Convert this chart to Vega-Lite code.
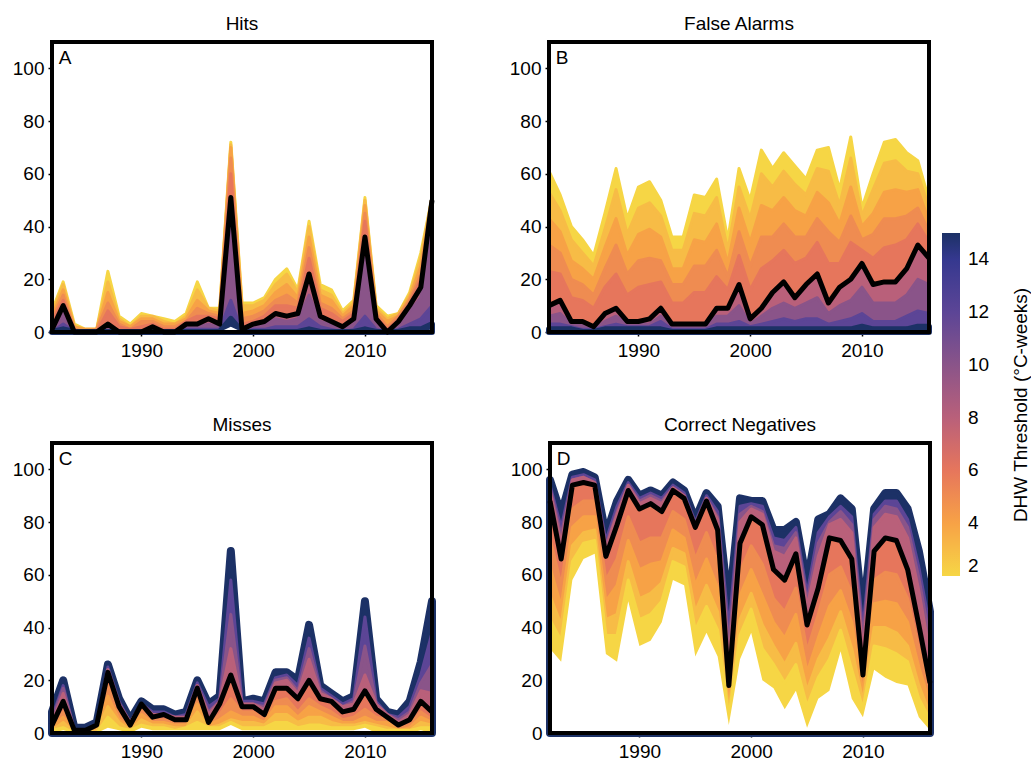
{
"$schema":"https://vega.github.io/schema/vega-lite/v6.json",
"background":"white",
"padding":{"left":12,"top":15,"right":0,"bottom":0},
"title":{"text":"DHW Threshold (°C-weeks)","orient":"right","anchor":"middle","angle":-90,"offset":3,"fontSize":19,"fontWeight":"normal","color":"black","font":"Liberation Sans","dx":-17},
"config":{"font":"Liberation Sans","view":{"stroke":null},
"axis":{"grid":false,"domain":false,"labelFontSize":19,"labelColor":"black","tickColor":"black","tickSize":4,"tickWidth":1.5,"title":null,"labelPadding":4},
"header":{"labelFontSize":19,"labelColor":"black","labelPadding":6}},
"datasets":{"d":[
{"p":"A","yr":1982,"k":1,"b":0,"2":8,"3":7,"4":6,"5":5,"6":4,"8":1,"10":1,"12":0,"15":0},
{"p":"A","yr":1983,"k":10,"b":0,"2":19,"3":18,"4":16,"5":14,"6":12,"8":10,"10":7,"12":3,"15":1},
{"p":"A","yr":1984,"k":0,"b":0,"2":3,"3":2,"4":2,"5":1,"6":1,"8":0,"10":0,"12":0,"15":0},
{"p":"A","yr":1985,"k":0,"b":0,"2":1,"3":1,"4":1,"5":0,"6":0,"8":0,"10":0,"12":0,"15":0},
{"p":"A","yr":1986,"k":0,"b":0,"2":1,"3":1,"4":1,"5":1,"6":0,"8":0,"10":0,"12":0,"15":0},
{"p":"A","yr":1987,"k":3,"b":0,"2":23,"3":19,"4":15,"5":11,"6":8,"8":3,"10":1,"12":0,"15":0},
{"p":"A","yr":1988,"k":0,"b":0,"2":6,"3":5,"4":4,"5":3,"6":2,"8":0,"10":0,"12":0,"15":0},
{"p":"A","yr":1989,"k":0,"b":0,"2":3,"3":2,"4":2,"5":1,"6":1,"8":0,"10":0,"12":0,"15":0},
{"p":"A","yr":1990,"k":0,"b":0,"2":7,"3":6,"4":5,"5":4,"6":2,"8":0,"10":0,"12":0,"15":0},
{"p":"A","yr":1991,"k":2,"b":0,"2":6,"3":6,"4":5,"5":4,"6":3,"8":2,"10":1,"12":0,"15":0},
{"p":"A","yr":1992,"k":0,"b":0,"2":5,"3":4,"4":3,"5":2,"6":1,"8":0,"10":0,"12":0,"15":0},
{"p":"A","yr":1993,"k":0,"b":0,"2":4,"3":3,"4":3,"5":2,"6":1,"8":0,"10":0,"12":0,"15":0},
{"p":"A","yr":1994,"k":3,"b":0,"2":7,"3":6,"4":5,"5":4,"6":4,"8":3,"10":2,"12":1,"15":0},
{"p":"A","yr":1995,"k":3,"b":0,"2":19,"3":16,"4":12,"5":9,"6":6,"8":3,"10":2,"12":1,"15":0},
{"p":"A","yr":1996,"k":5,"b":0,"2":9,"3":9,"4":8,"5":7,"6":6,"8":5,"10":3,"12":1,"15":0},
{"p":"A","yr":1997,"k":3,"b":0,"2":9,"3":8,"4":7,"5":6,"6":5,"8":3,"10":2,"12":1,"15":0},
{"p":"A","yr":1998,"k":51,"b":2,"2":72,"3":71,"4":70,"5":66,"6":60,"8":51,"10":42,"12":12,"15":5},
{"p":"A","yr":1999,"k":1,"b":0,"2":11,"3":10,"4":7,"5":5,"6":3,"8":1,"10":0,"12":0,"15":0},
{"p":"A","yr":2000,"k":3,"b":0,"2":11,"3":10,"4":8,"5":6,"6":4,"8":3,"10":2,"12":1,"15":0},
{"p":"A","yr":2001,"k":4,"b":0,"2":13,"3":12,"4":10,"5":8,"6":6,"8":4,"10":3,"12":1,"15":0},
{"p":"A","yr":2002,"k":7,"b":0,"2":20,"3":18,"4":15,"5":12,"6":10,"8":7,"10":5,"12":2,"15":0},
{"p":"A","yr":2003,"k":6,"b":0,"2":24,"3":22,"4":18,"5":14,"6":10,"8":6,"10":4,"12":2,"15":0},
{"p":"A","yr":2004,"k":7,"b":0,"2":16,"3":15,"4":13,"5":11,"6":9,"8":7,"10":5,"12":2,"15":0},
{"p":"A","yr":2005,"k":22,"b":0,"2":42,"3":40,"4":36,"5":32,"6":28,"8":22,"10":14,"12":5,"15":1},
{"p":"A","yr":2006,"k":6,"b":0,"2":18,"3":16,"4":14,"5":11,"6":9,"8":6,"10":4,"12":2,"15":0},
{"p":"A","yr":2007,"k":4,"b":0,"2":16,"3":14,"4":12,"5":9,"6":7,"8":4,"10":3,"12":1,"15":0},
{"p":"A","yr":2008,"k":2,"b":0,"2":8,"3":7,"4":6,"5":5,"6":4,"8":2,"10":1,"12":0,"15":0},
{"p":"A","yr":2009,"k":5,"b":0,"2":12,"3":11,"4":10,"5":8,"6":7,"8":5,"10":3,"12":1,"15":0},
{"p":"A","yr":2010,"k":36,"b":0,"2":51,"3":50,"4":48,"5":45,"6":42,"8":36,"10":28,"12":6,"15":1},
{"p":"A","yr":2011,"k":5,"b":0,"2":10,"3":9,"4":8,"5":7,"6":6,"8":5,"10":3,"12":1,"15":0},
{"p":"A","yr":2012,"k":0,"b":0,"2":6,"3":5,"4":4,"5":2,"6":1,"8":0,"10":0,"12":0,"15":0},
{"p":"A","yr":2013,"k":4,"b":0,"2":7,"3":7,"4":6,"5":6,"6":5,"8":4,"10":3,"12":1,"15":0},
{"p":"A","yr":2014,"k":10,"b":0,"2":15,"3":14,"4":13,"5":12,"6":11,"8":10,"10":8,"12":3,"15":1},
{"p":"A","yr":2015,"k":17,"b":0,"2":30,"3":28,"4":25,"5":22,"6":20,"8":17,"10":13,"12":5,"15":1},
{"p":"A","yr":2016,"k":50,"b":1,"2":51,"3":51,"4":51,"5":51,"6":51,"8":50,"10":42,"12":10,"15":3},
{"p":"B","yr":1982,"k":10,"b":0,"2":61,"3":53,"4":43,"5":33,"6":23,"8":10,"10":6,"12":3,"15":1},
{"p":"B","yr":1983,"k":12,"b":0,"2":52,"3":46,"4":38,"5":30,"6":22,"8":12,"10":7,"12":3,"15":1},
{"p":"B","yr":1984,"k":4,"b":0,"2":40,"3":35,"4":27,"5":20,"6":13,"8":4,"10":3,"12":2,"15":1},
{"p":"B","yr":1985,"k":4,"b":0,"2":35,"3":30,"4":24,"5":18,"6":12,"8":4,"10":3,"12":1,"15":0},
{"p":"B","yr":1986,"k":2,"b":0,"2":29,"3":25,"4":20,"5":14,"6":9,"8":2,"10":1,"12":1,"15":0},
{"p":"B","yr":1987,"k":7,"b":0,"2":45,"3":39,"4":32,"5":24,"6":17,"8":7,"10":4,"12":2,"15":1},
{"p":"B","yr":1988,"k":9,"b":0,"2":62,"3":54,"4":43,"5":33,"6":22,"8":9,"10":6,"12":3,"15":1},
{"p":"B","yr":1989,"k":4,"b":0,"2":43,"3":37,"4":29,"5":22,"6":14,"8":4,"10":3,"12":2,"15":1},
{"p":"B","yr":1990,"k":4,"b":0,"2":55,"3":47,"4":37,"5":27,"6":17,"8":4,"10":3,"12":2,"15":1},
{"p":"B","yr":1991,"k":5,"b":0,"2":57,"3":49,"4":39,"5":28,"6":18,"8":5,"10":3,"12":2,"15":1},
{"p":"B","yr":1992,"k":9,"b":0,"2":50,"3":44,"4":36,"5":27,"6":19,"8":9,"10":6,"12":4,"15":1},
{"p":"B","yr":1993,"k":3,"b":0,"2":36,"3":31,"4":24,"5":18,"6":11,"8":3,"10":2,"12":1,"15":0},
{"p":"B","yr":1994,"k":3,"b":0,"2":36,"3":31,"4":24,"5":18,"6":11,"8":3,"10":2,"12":1,"15":0},
{"p":"B","yr":1995,"k":3,"b":0,"2":52,"3":45,"4":35,"5":25,"6":15,"8":3,"10":2,"12":1,"15":0},
{"p":"B","yr":1996,"k":3,"b":0,"2":51,"3":44,"4":34,"5":25,"6":15,"8":3,"10":2,"12":1,"15":0},
{"p":"B","yr":1997,"k":9,"b":0,"2":58,"3":51,"4":41,"5":31,"6":21,"8":9,"10":6,"12":3,"15":1},
{"p":"B","yr":1998,"k":9,"b":0,"2":35,"3":31,"4":26,"5":21,"6":16,"8":9,"10":6,"12":3,"15":1},
{"p":"B","yr":1999,"k":18,"b":0,"2":62,"3":55,"4":47,"5":38,"6":29,"8":18,"10":10,"12":4,"15":1},
{"p":"B","yr":2000,"k":5,"b":0,"2":50,"3":43,"4":34,"5":25,"6":16,"8":5,"10":3,"12":2,"15":1},
{"p":"B","yr":2001,"k":9,"b":0,"2":69,"3":60,"4":48,"5":36,"6":24,"8":9,"10":6,"12":3,"15":1},
{"p":"B","yr":2002,"k":15,"b":0,"2":62,"3":55,"4":46,"5":36,"6":27,"8":15,"10":9,"12":4,"15":1},
{"p":"B","yr":2003,"k":19,"b":0,"2":68,"3":61,"4":51,"5":41,"6":31,"8":19,"10":11,"12":5,"15":1},
{"p":"B","yr":2004,"k":13,"b":0,"2":63,"3":56,"4":46,"5":36,"6":26,"8":13,"10":9,"12":4,"15":1},
{"p":"B","yr":2005,"k":18,"b":0,"2":58,"3":52,"4":44,"5":36,"6":28,"8":18,"10":11,"12":5,"15":1},
{"p":"B","yr":2006,"k":22,"b":0,"2":69,"3":62,"4":53,"5":43,"6":34,"8":22,"10":13,"12":5,"15":1},
{"p":"B","yr":2007,"k":11,"b":0,"2":70,"3":61,"4":49,"5":38,"6":26,"8":11,"10":7,"12":3,"15":1},
{"p":"B","yr":2008,"k":17,"b":0,"2":54,"3":48,"4":41,"5":34,"6":26,"8":17,"10":10,"12":4,"15":1},
{"p":"B","yr":2009,"k":20,"b":0,"2":74,"3":66,"4":55,"5":44,"6":34,"8":20,"10":12,"12":5,"15":1},
{"p":"B","yr":2010,"k":26,"b":0,"2":47,"3":44,"4":40,"5":35,"6":31,"8":26,"10":17,"12":7,"15":2},
{"p":"B","yr":2011,"k":18,"b":0,"2":60,"3":54,"4":45,"5":37,"6":28,"8":18,"10":11,"12":4,"15":1},
{"p":"B","yr":2012,"k":19,"b":0,"2":72,"3":64,"4":53,"5":43,"6":32,"8":19,"10":11,"12":4,"15":1},
{"p":"B","yr":2013,"k":19,"b":0,"2":73,"3":65,"4":54,"5":43,"6":33,"8":19,"10":11,"12":4,"15":1},
{"p":"B","yr":2014,"k":24,"b":0,"2":68,"3":61,"4":53,"5":44,"6":35,"8":24,"10":14,"12":6,"15":1},
{"p":"B","yr":2015,"k":33,"b":0,"2":65,"3":60,"4":54,"5":47,"6":41,"8":33,"10":20,"12":8,"15":2},
{"p":"B","yr":2016,"k":28,"b":0,"2":50,"3":47,"4":42,"5":38,"6":34,"8":28,"10":18,"12":7,"15":2},
{"p":"C","yr":1982,"k":3,"b":0,"2":1,"3":1,"4":2,"5":2,"6":3,"8":4,"10":5,"12":6,"15":8},
{"p":"C","yr":1983,"k":12,"b":1,"2":2,"3":4,"4":6,"5":8,"6":12,"8":15,"10":17,"12":18,"15":20},
{"p":"C","yr":1984,"k":1,"b":0,"2":0,"3":0,"4":1,"5":1,"6":1,"8":1,"10":1,"12":1,"15":2},
{"p":"C","yr":1985,"k":1,"b":0,"2":0,"3":0,"4":0,"5":1,"6":1,"8":1,"10":1,"12":1,"15":2},
{"p":"C","yr":1986,"k":3,"b":0,"2":0,"3":1,"4":1,"5":2,"6":3,"8":3,"10":3,"12":3,"15":4},
{"p":"C","yr":1987,"k":23,"b":2,"2":6,"3":10,"4":14,"5":18,"6":23,"8":24,"10":24,"12":25,"15":26},
{"p":"C","yr":1988,"k":10,"b":1,"2":2,"3":4,"4":5,"5":7,"6":10,"8":11,"10":11,"12":12,"15":13},
{"p":"C","yr":1989,"k":3,"b":0,"2":1,"3":1,"4":2,"5":2,"6":3,"8":4,"10":4,"12":4,"15":5},
{"p":"C","yr":1990,"k":11,"b":2,"2":3,"3":5,"4":7,"5":9,"6":11,"8":11,"10":11,"12":11,"15":12},
{"p":"C","yr":1991,"k":6,"b":1,"2":2,"3":3,"4":4,"5":5,"6":6,"8":7,"10":7,"12":8,"15":9},
{"p":"C","yr":1992,"k":7,"b":1,"2":2,"3":3,"4":4,"5":5,"6":7,"8":7,"10":7,"12":8,"15":9},
{"p":"C","yr":1993,"k":5,"b":1,"2":1,"3":2,"4":3,"5":4,"6":5,"8":6,"10":6,"12":6,"15":7},
{"p":"C","yr":1994,"k":5,"b":1,"2":2,"3":2,"4":3,"5":4,"6":5,"8":6,"10":6,"12":7,"15":8},
{"p":"C","yr":1995,"k":17,"b":1,"2":4,"3":8,"4":11,"5":13,"6":17,"8":18,"10":18,"12":19,"15":20},
{"p":"C","yr":1996,"k":4,"b":1,"2":2,"3":2,"4":3,"5":3,"6":4,"8":7,"10":8,"12":10,"15":11},
{"p":"C","yr":1997,"k":11,"b":1,"2":2,"3":3,"4":5,"5":7,"6":11,"8":12,"10":12,"12":13,"15":14},
{"p":"C","yr":1998,"k":22,"b":3,"2":4,"3":5,"4":8,"5":13,"6":22,"8":32,"10":45,"12":58,"15":69},
{"p":"C","yr":1999,"k":10,"b":1,"2":2,"3":4,"4":6,"5":8,"6":10,"8":11,"10":11,"12":12,"15":12},
{"p":"C","yr":2000,"k":10,"b":1,"2":2,"3":4,"4":6,"5":8,"6":10,"8":11,"10":11,"12":12,"15":13},
{"p":"C","yr":2001,"k":7,"b":1,"2":2,"3":3,"4":4,"5":5,"6":7,"8":9,"10":10,"12":11,"15":12},
{"p":"C","yr":2002,"k":17,"b":1,"2":4,"3":7,"4":10,"5":12,"6":17,"8":19,"10":20,"12":21,"15":23},
{"p":"C","yr":2003,"k":17,"b":1,"2":4,"3":7,"4":10,"5":13,"6":17,"8":20,"10":21,"12":22,"15":23},
{"p":"C","yr":2004,"k":13,"b":1,"2":2,"3":4,"4":6,"5":8,"6":13,"8":15,"10":16,"12":18,"15":20},
{"p":"C","yr":2005,"k":20,"b":1,"2":3,"3":6,"4":10,"5":13,"6":20,"8":28,"10":32,"12":36,"15":41},
{"p":"C","yr":2006,"k":13,"b":1,"2":3,"3":6,"4":8,"5":10,"6":13,"8":15,"10":16,"12":17,"15":18},
{"p":"C","yr":2007,"k":12,"b":1,"2":2,"3":4,"4":6,"5":8,"6":12,"8":13,"10":13,"12":14,"15":15},
{"p":"C","yr":2008,"k":8,"b":1,"2":2,"3":3,"4":4,"5":5,"6":8,"8":10,"10":10,"12":11,"15":12},
{"p":"C","yr":2009,"k":9,"b":1,"2":2,"3":3,"4":4,"5":6,"6":9,"8":11,"10":12,"12":13,"15":14},
{"p":"C","yr":2010,"k":16,"b":2,"2":3,"3":4,"4":6,"5":9,"6":16,"8":22,"10":33,"12":44,"15":50},
{"p":"C","yr":2011,"k":9,"b":0,"2":2,"3":3,"4":4,"5":6,"6":9,"8":11,"10":11,"12":12,"15":13},
{"p":"C","yr":2012,"k":6,"b":0,"2":1,"3":2,"4":4,"5":5,"6":6,"8":7,"10":7,"12":7,"15":8},
{"p":"C","yr":2013,"k":3,"b":0,"2":1,"3":1,"4":1,"5":2,"6":3,"8":4,"10":5,"12":6,"15":7},
{"p":"C","yr":2014,"k":5,"b":0,"2":1,"3":1,"4":2,"5":3,"6":5,"8":7,"10":8,"12":10,"15":12},
{"p":"C","yr":2015,"k":12,"b":1,"2":2,"3":4,"4":6,"5":8,"6":12,"8":16,"10":19,"12":22,"15":27},
{"p":"C","yr":2016,"k":8,"b":0,"2":2,"3":3,"4":4,"5":5,"6":8,"8":15,"10":26,"12":38,"15":50},
{"p":"D","yr":1982,"k":88,"b":32,"2":43,"3":52,"4":63,"5":74,"6":88,"8":92,"10":93,"12":94,"15":96},
{"p":"D","yr":1983,"k":66,"b":27,"2":35,"3":41,"4":48,"5":56,"6":66,"8":72,"10":75,"12":78,"15":83},
{"p":"D","yr":1984,"k":94,"b":58,"2":65,"3":71,"4":78,"5":85,"6":94,"8":96,"10":96,"12":97,"15":98},
{"p":"D","yr":1985,"k":95,"b":66,"2":72,"3":76,"4":82,"5":88,"6":95,"8":97,"10":97,"12":98,"15":99},
{"p":"D","yr":1986,"k":94,"b":68,"2":73,"3":77,"4":82,"5":88,"6":94,"8":95,"10":95,"12":96,"15":97},
{"p":"D","yr":1987,"k":67,"b":30,"2":37,"3":43,"4":50,"5":58,"6":67,"8":70,"10":71,"12":73,"15":75},
{"p":"D","yr":1988,"k":79,"b":27,"2":37,"3":45,"4":56,"5":66,"6":79,"8":83,"10":84,"12":86,"15":88},
{"p":"D","yr":1989,"k":92,"b":50,"2":58,"3":65,"4":73,"5":82,"6":92,"8":94,"10":94,"12":95,"15":96},
{"p":"D","yr":1990,"k":85,"b":33,"2":43,"3":51,"4":62,"5":72,"6":85,"8":87,"10":88,"12":89,"15":90},
{"p":"D","yr":1991,"k":87,"b":35,"2":45,"3":53,"4":64,"5":74,"6":87,"8":89,"10":90,"12":91,"15":92},
{"p":"D","yr":1992,"k":84,"b":42,"2":50,"3":57,"4":65,"5":74,"6":84,"8":87,"10":88,"12":89,"15":90},
{"p":"D","yr":1993,"k":92,"b":58,"2":65,"3":70,"4":77,"5":84,"6":92,"8":93,"10":93,"12":94,"15":95},
{"p":"D","yr":1994,"k":89,"b":56,"2":63,"3":68,"4":74,"5":81,"6":89,"8":90,"10":90,"12":91,"15":92},
{"p":"D","yr":1995,"k":78,"b":29,"2":39,"3":46,"4":56,"5":66,"6":78,"8":79,"10":79,"12":80,"15":81},
{"p":"D","yr":1996,"k":88,"b":38,"2":48,"3":56,"4":66,"5":76,"6":88,"8":89,"10":89,"12":90,"15":91},
{"p":"D","yr":1997,"k":77,"b":29,"2":39,"3":46,"4":55,"5":65,"6":77,"8":81,"10":82,"12":84,"15":86},
{"p":"D","yr":1998,"k":18,"b":3,"2":6,"3":8,"4":11,"5":14,"6":18,"8":27,"10":33,"12":40,"15":47},
{"p":"D","yr":1999,"k":72,"b":28,"2":37,"3":43,"4":52,"5":61,"6":72,"8":80,"10":83,"12":86,"15":89},
{"p":"D","yr":2000,"k":82,"b":38,"2":47,"3":53,"4":62,"5":71,"6":82,"8":85,"10":86,"12":87,"15":88},
{"p":"D","yr":2001,"k":79,"b":20,"2":32,"3":41,"4":52,"5":64,"6":79,"8":83,"10":84,"12":86,"15":88},
{"p":"D","yr":2002,"k":62,"b":17,"2":26,"3":33,"4":42,"5":51,"6":62,"8":69,"10":71,"12":74,"15":77},
{"p":"D","yr":2003,"k":58,"b":9,"2":19,"3":26,"4":36,"5":46,"6":58,"8":67,"10":70,"12":73,"15":77},
{"p":"D","yr":2004,"k":68,"b":16,"2":26,"3":34,"4":45,"5":55,"6":68,"8":74,"10":76,"12":78,"15":80},
{"p":"D","yr":2005,"k":41,"b":2,"2":10,"3":16,"4":23,"5":31,"6":41,"8":48,"10":50,"12":53,"15":57},
{"p":"D","yr":2006,"k":55,"b":13,"2":21,"3":28,"4":36,"5":45,"6":55,"8":67,"10":72,"12":76,"15":81},
{"p":"D","yr":2007,"k":74,"b":16,"2":28,"3":36,"4":48,"5":60,"6":74,"8":79,"10":80,"12":82,"15":83},
{"p":"D","yr":2008,"k":73,"b":31,"2":39,"3":46,"4":54,"5":63,"6":73,"8":81,"10":84,"12":86,"15":89},
{"p":"D","yr":2009,"k":66,"b":13,"2":24,"3":32,"4":42,"5":53,"6":66,"8":76,"10":79,"12":82,"15":85},
{"p":"D","yr":2010,"k":22,"b":6,"2":9,"3":12,"4":15,"5":18,"6":22,"8":31,"10":36,"12":40,"15":44},
{"p":"D","yr":2011,"k":69,"b":24,"2":33,"3":40,"4":49,"5":58,"6":69,"8":78,"10":81,"12":83,"15":85},
{"p":"D","yr":2012,"k":74,"b":21,"2":32,"3":40,"4":50,"5":61,"6":74,"8":83,"10":86,"12":88,"15":91},
{"p":"D","yr":2013,"k":73,"b":19,"2":30,"3":38,"4":49,"5":60,"6":73,"8":82,"10":85,"12":88,"15":91},
{"p":"D","yr":2014,"k":62,"b":18,"2":27,"3":33,"4":42,"5":51,"6":62,"8":74,"10":78,"12":81,"15":85},
{"p":"D","yr":2015,"k":41,"b":6,"2":13,"3":18,"4":25,"5":32,"6":41,"8":54,"10":59,"12":63,"15":69},
{"p":"D","yr":2016,"k":19,"b":1,"2":5,"3":7,"4":11,"5":15,"6":19,"8":30,"10":35,"12":40,"15":46}
]},
"spacing":56,
"vconcat":[
{"data":{"name":"d"},"transform":[{"filter":"datum.p == 'A' || datum.p == 'B'"}],
"facet":{"column":{"field":"p","type":"nominal","title":null,"header":{"labelExpr":"datum.value == 'A' ? 'Hits' : 'False Alarms'"}}},
"spacing":74,
"resolve":{"axis":{"x":"independent","y":"independent"}},
"spec":{"width":380,"height":290,"layer":[
{"transform":[{"fold":["2","3","4","5","6","8","10","12","15"],"as":["t","v"]}],
"mark":{"type":"area","strokeJoin":"round","strokeWidth":3,"interpolate":"linear"},
"encoding":{
"x":{"field":"yr","type":"quantitative","scale":{"domain":[1982,2016],"nice":false,"zero":false},"axis":{"values":[1990,2000,2010],"format":"d","labelPadding":5}},
"y":{"field":"v","type":"quantitative","stack":null,"scale":{"domain":[0,110],"nice":false},"axis":{"values":[0,20,40,60,80,100]}},
"fill":{"field":"t","type":"quantitative","scale":{"domain":[2,4,6,8,10,12,14,15],"range":["#f6d645","#f7a246","#e6765c","#b9607a","#8a5489","#5c4596","#35388f","#1c3166"],"interpolate":"rgb"},
"legend":{"type":"gradient","orient":"none","legendX":890,"legendY":191,"padding":0,"direction":"vertical","gradientLength":343,"gradientThickness":18,"values":[2,4,6,8,10,12,14],"labelFontSize":19,"labelColor":"black","labelOffset":8,"title":null,"gradientStrokeWidth":0}},
"stroke":{"field":"t","type":"quantitative","scale":{"domain":[1.999,4,6,8,10,12,14,15.001],"range":["#f6d645","#f7a246","#e6765c","#b9607a","#8a5489","#5c4596","#35388f","#1c3166"],"interpolate":"rgb"},"legend":null}}},
{"mark":{"type":"area","color":"#1c3166","stroke":"#1c3166","strokeWidth":6,"strokeJoin":"round","interpolate":"linear"},
"encoding":{"x":{"field":"yr","type":"quantitative"},"y":{"field":"15","type":"quantitative"}}},
{"mark":{"type":"area","color":"white","interpolate":"linear"},
"encoding":{"x":{"field":"yr","type":"quantitative"},"y":{"field":"b","type":"quantitative"}}},
{"mark":{"type":"line","color":"black","strokeWidth":5,"strokeJoin":"round"},
"encoding":{"x":{"field":"yr","type":"quantitative"},"y":{"field":"k","type":"quantitative"}}},
{"transform":[{"filter":"datum.yr == 1982"}],
"mark":{"type":"text","align":"left","baseline":"middle","fontSize":19,"color":"black"},
"encoding":{"x":{"datum":1982.6},"y":{"datum":104},"text":{"field":"p"}}},
{"transform":[{"filter":"datum.yr == 1982"}],
"mark":{"type":"rect","filled":false,"stroke":"black","strokeWidth":4},
"encoding":{"x":{"datum":1982},"x2":{"datum":2016},"y":{"datum":0},"y2":{"datum":110}}}
]}},
{"data":{"name":"d"},"transform":[{"filter":"datum.p == 'C' || datum.p == 'D'"}],
"facet":{"column":{"field":"p","type":"nominal","title":null,"header":{"labelExpr":"datum.value == 'C' ? 'Misses' : 'Correct Negatives'"}}},
"spacing":74,
"resolve":{"axis":{"x":"independent","y":"independent"}},
"spec":{"width":380,"height":290,"layer":[
{"mark":{"type":"area","color":"#1c3166","stroke":"#1c3166","strokeWidth":8,"strokeJoin":"round","interpolate":"linear"},
"encoding":{"x":{"field":"yr","type":"quantitative","scale":{"domain":[1982,2016],"nice":false,"zero":false},"axis":{"values":[1990,2000,2010],"format":"d","labelPadding":5}},"y":{"field":"15","type":"quantitative","scale":{"domain":[0,110],"nice":false},"axis":{"values":[0,20,40,60,80,100]}}}},
{"transform":[{"fold":["15","12","10","8","6","5","4","3","2"],"as":["t","v"]}],
"mark":{"type":"area","strokeJoin":"round","strokeWidth":3,"interpolate":"linear"},
"encoding":{
"x":{"field":"yr","type":"quantitative"},
"y":{"field":"v","type":"quantitative","stack":null},
"fill":{"field":"t","type":"quantitative","scale":{"domain":[2,4,6,8,10,12,14,15],"range":["#f6d645","#f7a246","#e6765c","#b9607a","#8a5489","#5c4596","#35388f","#1c3166"],"interpolate":"rgb"},
"legend":{"type":"gradient","orient":"none","legendX":890,"legendY":191,"padding":0,"direction":"vertical","gradientLength":343,"gradientThickness":18,"values":[2,4,6,8,10,12,14],"labelFontSize":19,"labelColor":"black","labelOffset":8,"title":null,"gradientStrokeWidth":0}},
"stroke":{"field":"t","type":"quantitative","scale":{"domain":[1.999,4,6,8,10,12,14,15.001],"range":["#f6d645","#f7a246","#e6765c","#b9607a","#8a5489","#5c4596","#35388f","#1c3166"],"interpolate":"rgb"},"legend":null}}},
{"mark":{"type":"area","color":"white","interpolate":"linear"},
"encoding":{"x":{"field":"yr","type":"quantitative"},"y":{"field":"b","type":"quantitative"}}},
{"mark":{"type":"line","color":"black","strokeWidth":5,"strokeJoin":"round"},
"encoding":{"x":{"field":"yr","type":"quantitative"},"y":{"field":"k","type":"quantitative"}}},
{"transform":[{"filter":"datum.yr == 1982"}],
"mark":{"type":"text","align":"left","baseline":"middle","fontSize":19,"color":"black"},
"encoding":{"x":{"datum":1982.6},"y":{"datum":104},"text":{"field":"p"}}},
{"transform":[{"filter":"datum.yr == 1982"}],
"mark":{"type":"rect","filled":false,"stroke":"black","strokeWidth":4},
"encoding":{"x":{"datum":1982},"x2":{"datum":2016},"y":{"datum":0},"y2":{"datum":110}}}
]}}
]
}
